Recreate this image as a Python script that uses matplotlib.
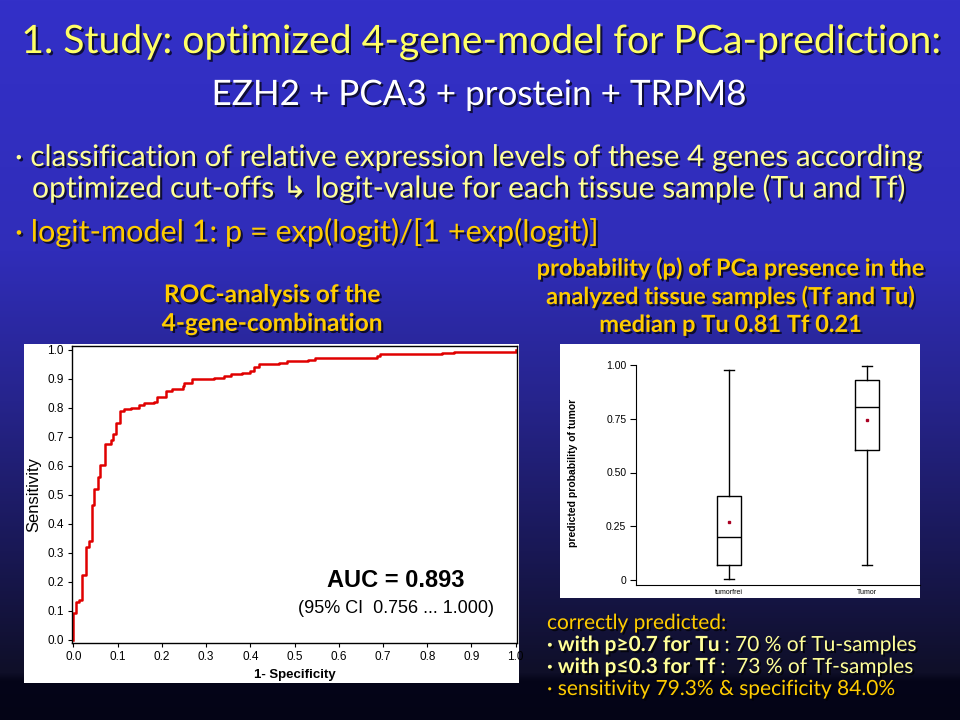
import numpy as np
import matplotlib
matplotlib.use("Agg")
import matplotlib.pyplot as plt
import matplotlib.patheffects as pe
from matplotlib.patches import Rectangle

# ROC curve (1 - specificity, sensitivity), step points
roc_fpr = [0.0, 0.0, 0.005, 0.0135, 0.019, 0.029, 0.036, 0.042, 0.047, 0.055, 0.06,
           0.072, 0.085, 0.09, 0.096, 0.105, 0.115, 0.13, 0.149, 0.16, 0.183, 0.19,
           0.209, 0.224, 0.247, 0.25, 0.268, 0.318, 0.34, 0.356, 0.382, 0.40, 0.408,
           0.42, 0.465, 0.483, 0.53, 0.547, 0.686, 0.694, 0.833, 0.86, 1.0]
roc_tpr = [0.0, 0.09, 0.13, 0.135, 0.221, 0.32, 0.34, 0.463, 0.52, 0.56, 0.604,
           0.675, 0.69, 0.71, 0.748, 0.79, 0.795, 0.80, 0.81, 0.815, 0.82, 0.836,
           0.858, 0.865, 0.875, 0.885, 0.898, 0.903, 0.91, 0.918, 0.92, 0.925, 0.94,
           0.95, 0.955, 0.962, 0.965, 0.972, 0.978, 0.985, 0.99, 0.993, 1.0]

# box plot stats of predicted probability
groups = ["tumorfrei", "Tumor"]
whis_lo = [0.006, 0.068]
q1 = [0.068, 0.605]
median = [0.202, 0.803]
q3 = [0.392, 0.929]
whis_hi = [0.977, 0.995]
mean = [0.268, 0.744]

yellow = "#ffff66"
lightyellow = "#ffff99"
orange = "#ffcc00"
FONT = ["Lato", "DejaVu Sans"]
CHART = ["Liberation Sans", "DejaVu Sans"]
shadow = [pe.withSimplePatchShadow(offset=(1.5, -1.5), shadow_rgbFace="black", alpha=0.7)]

fig = plt.figure(figsize=(9.6, 7.2), dpi=100)
renderer = fig.canvas.get_renderer()

# background in pixel coordinates
bg = fig.add_axes([0, 0, 1, 1])
bg.set_xlim(0, 960)
bg.set_ylim(720, 0)
bg.axis("off")
stops_y = [0, 250, 400, 550, 672, 680, 720]
stops_c = [(51, 48, 200), (48, 45, 185), (38, 36, 140), (25, 24, 85), (15, 15, 40), (5, 5, 25), (4, 4, 22)]
yy = np.arange(720)
grad = np.zeros((720, 1, 3))
for k in range(3):
    grad[:, 0, k] = np.interp(yy, stops_y, [c[k] for c in stops_c]) / 255
bg.imshow(grad, extent=(0, 960, 720, 0), aspect="auto", zorder=0)

bg.add_patch(Rectangle((24, 344), 495, 339, facecolor="white", edgecolor="none", zorder=1))
bg.add_patch(Rectangle((560, 344), 360, 254, facecolor="white", edgecolor="none", zorder=1))


def txt(x, y, s, width=None, **kw):
    kw.setdefault("family", FONT)
    kw.setdefault("path_effects", shadow)
    kw.setdefault("va", "center")
    t = bg.text(x, y, s, zorder=3, **kw)
    if width is not None:
        w = t.get_window_extent(renderer).width
        t.set_fontsize(t.get_fontsize() * width / w)
    return t


def x_end(t):
    bb = t.get_window_extent(renderer)
    return bg.transData.inverted().transform((bb.x1, bb.y0))[0]


txt(481, 42, "1. Study: optimized 4-gene-model for PCa-prediction:", width=918,
    color=yellow, fontsize=26, ha="center")
txt(479, 95, "EZH2 + PCA3 + prostein + TRPM8", width=533, color="white",
    fontsize=22, ha="center")
txt(15, 157, "· classification of relative expression levels of these 4 genes according",
    width=910, color=lightyellow, fontsize=19, ha="left")
txt(32, 188, "optimized cut-offs ↳ logit-value for each tissue sample (Tu and Tf)",
    width=875, color=lightyellow, fontsize=19, ha="left")
txt(15, 232, "· logit-model 1: p = exp(logit)/[1 +exp(logit)]", width=585,
    color=orange, fontsize=19, ha="left")
t = txt(272, 309, "ROC-analysis of the\n4-gene-combination", width=222, color=orange,
        fontsize=14, fontweight="bold", ha="center", linespacing=1.3)
txt(731, 296, "probability (p) of PCa presence in the\nanalyzed tissue samples (Tf and Tu)\nmedian p Tu 0.81 Tf 0.21",
    width=390, color=orange, fontsize=14, fontweight="bold", ha="center", linespacing=1.25)

tc = txt(547, 623, "correctly predicted:", width=180, color=orange, fontsize=14, ha="left")
fs = tc.get_fontsize()
lines = [("· with p≥0.7 for Tu", " : 70 % of Tu-samples"),
         ("· with p≤0.3 for Tf", " :  73 % of Tf-samples")]
for i, (b, n) in enumerate(lines):
    tb = txt(547, 645 + 22 * i, b, color=lightyellow, fontsize=fs, fontweight="bold", ha="left")
    txt(x_end(tb), 645 + 22 * i, n, color=lightyellow, fontsize=fs, ha="left")
txt(547, 689, "· sensitivity 79.3% & specificity 84.0%", color=orange, fontsize=fs,
    ha="left")

# ROC axes
W, H = 960, 720
ax = fig.add_axes([72 / W, 1 - 643 / H, 445 / W, 297 / H])
ax.plot(roc_fpr, roc_tpr, drawstyle="steps-post", color="#e00000", linewidth=1.8)
ax.set_xlim(-0.003, 1.003)
ax.set_ylim(-0.012, 1.013)
ax.set_xticks(np.arange(0, 1.01, 0.1))
ax.set_yticks(np.arange(0, 1.01, 0.1))
ax.xaxis.set_major_formatter(matplotlib.ticker.FormatStrFormatter("%.1f"))
ax.yaxis.set_major_formatter(matplotlib.ticker.FormatStrFormatter("%.1f"))
ax.tick_params(labelsize=8.5, length=3, pad=3)
for lab in ax.get_xticklabels() + ax.get_yticklabels():
    lab.set_family(CHART)
ax.set_xlabel("1- Specificity", fontsize=9.5, fontweight="bold", family=CHART, labelpad=4)
ax.set_ylabel("Sensitivity", fontsize=12, family=CHART, labelpad=4)
for s in ax.spines.values():
    s.set_linewidth(1.0)
ax.text(0.73, 0.205, "AUC = 0.893", fontsize=17, fontweight="bold", family=CHART,
        ha="center", va="center")
ax.text(0.73, 0.108, "(95% CI  0.756 ... 1.000)", fontsize=13, family=CHART,
        ha="center", va="center")

# box plot axes
ax2 = fig.add_axes([636 / W, 1 - 585 / H, 284 / W, 225 / H])
stats = []
for i in range(2):
    stats.append(dict(label=groups[i], whislo=whis_lo[i], q1=q1[i], med=median[i],
                      q3=q3[i], whishi=whis_hi[i], mean=mean[i], fliers=[]))
ax2.bxp(stats, positions=[1, 2], widths=0.174, capwidths=0.072, showmeans=True,
        boxprops=dict(color="black", linewidth=1),
        whiskerprops=dict(color="black", linewidth=1),
        capprops=dict(color="black", linewidth=1),
        medianprops=dict(color="black", linewidth=1),
        meanprops=dict(marker="s", markersize=1.8, markerfacecolor="#aa0022",
                       markeredgecolor="#aa0022"))
ax2.set_xlim(0.327, 2.385)
ax2.set_ylim(-0.023, 1.023)
ax2.set_yticks([0, 0.25, 0.5, 0.75, 1.0])
ax2.set_yticklabels(["0", "0.25", "0.50", "0.75", "1.00"], family=CHART)
ax2.set_xticklabels(groups, family=CHART)
ax2.tick_params(axis="y", labelsize=7.5, length=4, pad=3)
ax2.tick_params(axis="x", labelsize=5, length=0, pad=3)
ax2.spines["top"].set_visible(False)
ax2.spines["right"].set_visible(False)
ax2.spines["left"].set_bounds(-0.023, 1.0)
ax2.patch.set_alpha(0)
ax2.set_ylabel("predicted probability of tumor", fontsize=7.5, fontweight="bold",
               family=CHART, labelpad=20)

plt.savefig("out.png", dpi=100)
